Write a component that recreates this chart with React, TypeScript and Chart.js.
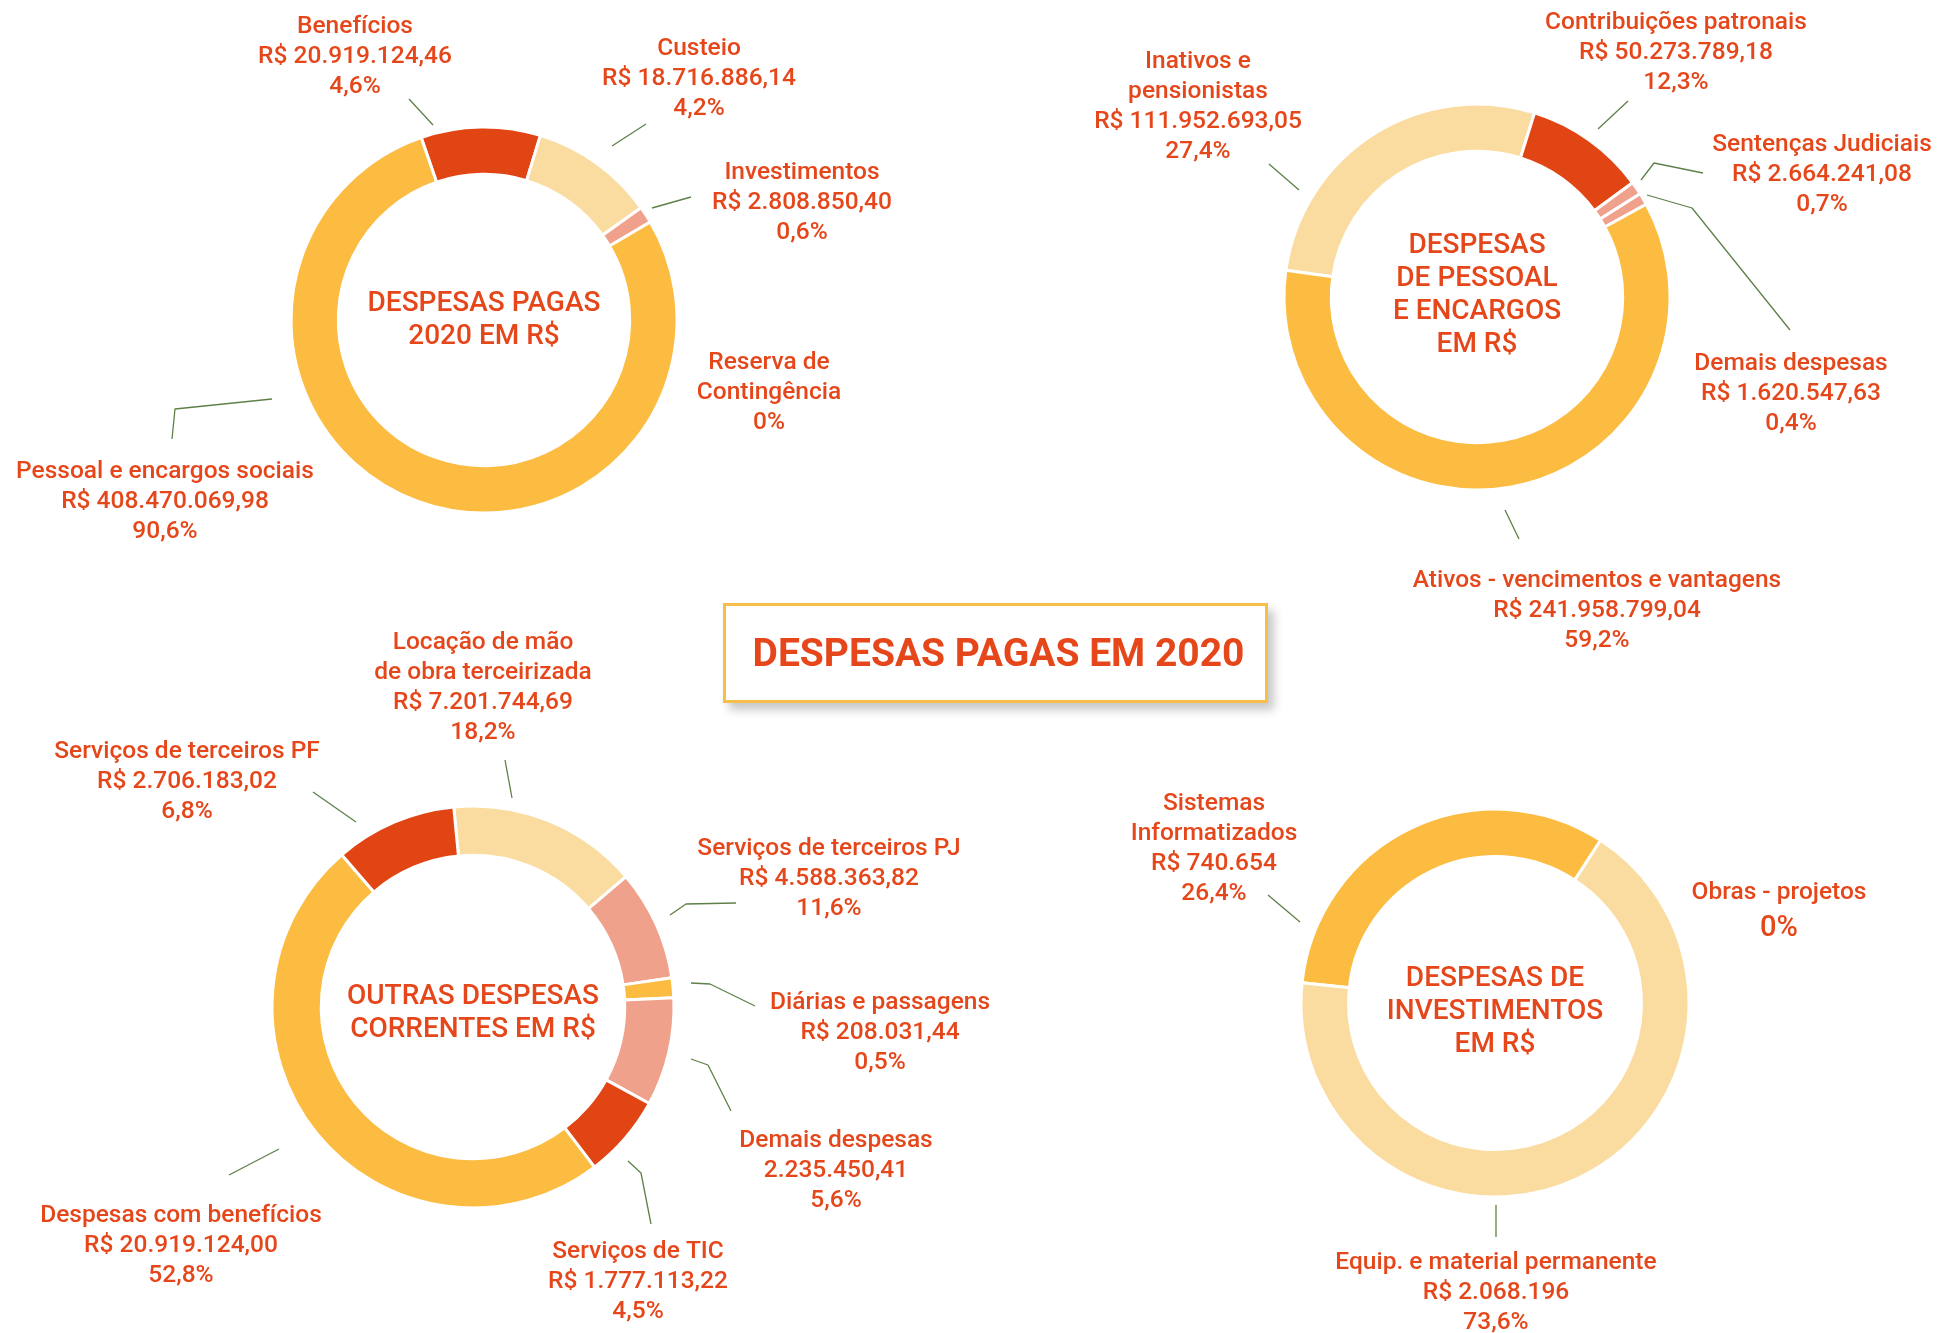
import React, { useEffect, useRef } from "react";
import { Chart, registerables } from "chart.js";

Chart.register(...registerables);

const PAGE_W = 1941;
const PAGE_H = 1333;

const RED = "#E24514";
const YELLOW = "#FBBC41";
const LIGHT = "#FBDCA0";
const SALMON = "#F0A18B";
const TEXT = "#E5471B";
const LINE = "#5E8048";
const FONT = "Roboto, 'Noto Sans', sans-serif";

// ---------- Despesas pagas 2020 ----------
const pagasCategorias = ["Benefícios", "Custeio", "Investimentos", "Reserva de\nContingência", "Pessoal e encargos sociais"];
const pagasValores = ["R$ 20.919.124,46", "R$ 18.716.886,14", "R$ 2.808.850,40", "", "R$ 408.470.069,98"];
const pagasPercentuais = ["4,6%", "4,2%", "0,6%", "0%", "90,6%"];
const pagasArco = [10.0, 10.4, 1.4, 0, 78.2];
const pagasCentro = ["DESPESAS PAGAS", "2020 EM R$"];

// ---------- Despesas de pessoal e encargos ----------
const pessoalCategorias = ["Inativos e\npensionistas", "Contribuições patronais", "Sentenças Judiciais", "Demais despesas", "Ativos - vencimentos e vantagens"];
const pessoalValores = ["R$ 111.952.693,05", "R$ 50.273.789,18", "R$ 2.664.241,08", "R$ 1.620.547,63", "R$ 241.958.799,04"];
const pessoalPercentuais = ["27,4%", "12,3%", "0,7%", "0,4%", "59,2%"];
const pessoalArco = [27.6, 10.1, 1.1, 1.0, 60.2];
const pessoalCentro = ["DESPESAS", "DE PESSOAL", "E ENCARGOS", "EM R$"];

// ---------- Outras despesas correntes ----------
const outrasCategorias = [
  "Locação de mão\nde obra terceirizada",
  "Serviços de terceiros PJ",
  "Diárias e passagens",
  "Demais despesas",
  "Serviços de TIC",
  "Despesas com benefícios",
  "Serviços de terceiros PF",
];
const outrasValores = ["R$ 7.201.744,69", "R$ 4.588.363,82", "R$ 208.031,44", "2.235.450,41", "R$ 1.777.113,22", "R$ 20.919.124,00", "R$ 2.706.183,02"];
const outrasPercentuais = ["18,2%", "11,6%", "0,5%", "5,6%", "4,5%", "52,8%", "6,8%"];
const outrasArco = [15.3, 8.9, 1.6, 8.7, 6.7, 49.0, 9.8];
const outrasCentro = ["OUTRAS DESPESAS", "CORRENTES EM R$"];

// ---------- Despesas de investimentos ----------
const investCategorias = ["Sistemas\nInformatizados", "Obras - projetos", "Equip. e material permanente"];
const investValores = ["R$ 740.654", "", "R$ 2.068.196"];
const investPercentuais = ["26,4%", "0%", "73,6%"];
const investArco = [32.5, 0, 67.5];
const investCentro = ["DESPESAS DE", "INVESTIMENTOS", "EM R$"];

const TITULO = "DESPESAS PAGAS EM 2020";

type Label = { x: number; y: number; leader: number[][]; pctSize?: number; pctGap?: number };
type Spec = {
  cx: number;
  cy: number;
  r: number;
  rotation: number;
  categorias: string[];
  valores: string[];
  percentuais: string[];
  arco: number[];
  cores: string[];
  centro: string[];
  centroY: number;
  labels: Label[];
};

const BW = 3;
const DY = 3;

const specs: Spec[] = [
  {
    cx: 484, cy: 320, r: 193, rotation: -19,
    categorias: pagasCategorias, valores: pagasValores, percentuais: pagasPercentuais, arco: pagasArco,
    cores: [RED, LIGHT, SALMON, YELLOW, YELLOW], centro: pagasCentro, centroY: 304,
    labels: [
      { x: 355, y: 24, leader: [[409, 99], [433, 125]] },
      { x: 699, y: 46, leader: [[646, 124], [612, 146]] },
      { x: 802, y: 170, leader: [[691, 197], [652, 208]] },
      { x: 769, y: 360, leader: [] },
      { x: 165, y: 469, leader: [[172, 439], [175, 409], [272, 399]] },
    ],
  },
  {
    cx: 1477, cy: 297, r: 193, rotation: -82,
    categorias: pessoalCategorias, valores: pessoalValores, percentuais: pessoalPercentuais, arco: pessoalArco,
    cores: [LIGHT, RED, SALMON, SALMON, YELLOW], centro: pessoalCentro, centroY: 246,
    labels: [
      { x: 1198, y: 59, leader: [[1269, 164], [1299, 190]] },
      { x: 1676, y: 20, leader: [[1628, 101], [1598, 129]] },
      { x: 1822, y: 142, leader: [[1703, 173], [1654, 163], [1641, 180]] },
      { x: 1791, y: 361, leader: [[1790, 330], [1692, 208], [1647, 195]] },
      { x: 1597, y: 578, leader: [[1505, 510], [1519, 539]] },
    ],
  },
  {
    cx: 473, cy: 1007, r: 201, rotation: -5.5,
    categorias: outrasCategorias, valores: outrasValores, percentuais: outrasPercentuais, arco: outrasArco,
    cores: [LIGHT, SALMON, YELLOW, SALMON, RED, YELLOW, RED], centro: outrasCentro, centroY: 997,
    labels: [
      { x: 483, y: 640, leader: [[505, 760], [512, 798]] },
      { x: 829, y: 846, leader: [[736, 903], [686, 904], [670, 915]] },
      { x: 880, y: 1000, leader: [[755, 1006], [710, 984], [691, 983]] },
      { x: 836, y: 1138, leader: [[731, 1111], [708, 1065], [691, 1059]] },
      { x: 638, y: 1249, leader: [[651, 1224], [641, 1173], [628, 1161]] },
      { x: 181, y: 1213, leader: [[229, 1175], [279, 1149]] },
      { x: 187, y: 749, leader: [[313, 792], [356, 822]] },
    ],
  },
  {
    cx: 1495, cy: 1003, r: 194, rotation: -84,
    categorias: investCategorias, valores: investValores, percentuais: investPercentuais, arco: investArco,
    cores: [YELLOW, LIGHT, LIGHT], centro: investCentro, centroY: 979,
    labels: [
      { x: 1214, y: 801, leader: [[1268, 895], [1300, 922]] },
      { x: 1779, y: 890, leader: [], pctSize: 29, pctGap: 36 },
      { x: 1496, y: 1260, leader: [[1496, 1205], [1496, 1237]] },
    ],
  },
];

const LINE_H = 30;

function makePlugin(spec: Spec) {
  return {
    id: "infoLabels",
    afterDraw(chart: any) {
      const ctx: CanvasRenderingContext2D = chart.ctx;
      const area = chart.chartArea;
      const cx = (area.left + area.right) / 2;
      ctx.save();
      // leader lines
      ctx.strokeStyle = LINE;
      ctx.lineWidth = 1.3;
      ctx.lineJoin = "round";
      spec.labels.forEach((lb) => {
        if (lb.leader.length < 2) return;
        ctx.beginPath();
        lb.leader.forEach((p, k) => (k === 0 ? ctx.moveTo(p[0], p[1]) : ctx.lineTo(p[0], p[1])));
        ctx.stroke();
      });
      // labels
      ctx.fillStyle = TEXT;
      ctx.textAlign = "center";
      ctx.textBaseline = "middle";
      spec.labels.forEach((lb, i) => {
        const lines = spec.categorias[i].split("\n");
        if (spec.valores[i]) lines.push(spec.valores[i]);
        let y = lb.y + DY;
        ctx.font = `500 24.5px ${FONT}`;
        lines.forEach((t) => {
          ctx.fillText(t, lb.x, y);
          y += LINE_H;
        });
        if (lb.pctSize) {
          y = y - LINE_H + (lb.pctGap || LINE_H);
          ctx.font = `500 ${lb.pctSize}px ${FONT}`;
        }
        ctx.fillText(spec.percentuais[i], lb.x, y);
      });
      // center text
      ctx.font = `500 28px ${FONT}`;
      let y = spec.centroY;
      spec.centro.forEach((t) => {
        ctx.fillText(t, cx, y);
        y += 33;
      });
      ctx.restore();
    },
  };
}

function Donut({ spec }: { spec: Spec }) {
  const ref = useRef<HTMLCanvasElement | null>(null);
  useEffect(() => {
    if (!ref.current) return;
    const R = spec.r + BW / 2;
    const chart = new Chart(ref.current, {
      type: "doughnut",
      data: {
        labels: spec.categorias,
        datasets: [
          {
            data: spec.arco,
            backgroundColor: spec.cores,
            borderColor: "#ffffff",
            borderWidth: BW,
            hoverOffset: 0,
          },
        ],
      },
      options: {
        responsive: false,
        animation: false,
        rotation: spec.rotation,
        cutout: "75.5%",
        events: [],
        layout: {
          padding: {
            left: spec.cx - R,
            top: spec.cy - R,
            right: PAGE_W - spec.cx - R,
            bottom: PAGE_H - spec.cy - R,
          },
        },
        plugins: {
          legend: { display: false },
          tooltip: { enabled: false },
        },
      } as any,
      plugins: [makePlugin(spec)],
    });
    return () => chart.destroy();
  }, [spec]);
  return (
    <canvas
      ref={ref}
      width={PAGE_W}
      height={PAGE_H}
      style={{ position: "absolute", left: 0, top: 0, width: PAGE_W, height: PAGE_H }}
    />
  );
}

export default function App() {
  return (
    <div style={{ position: "absolute", left: 0, top: 0, width: PAGE_W, height: PAGE_H, background: "#ffffff", overflow: "hidden" }}>
      {specs.map((s, i) => (
        <Donut key={i} spec={s} />
      ))}
      <div
        style={{
          position: "absolute",
          left: 723,
          top: 603,
          width: 545,
          height: 100,
          boxSizing: "border-box",
          border: "3px solid #F8BE4A",
          background: "#ffffff",
          boxShadow: "6px 7px 9px rgba(0,0,0,0.22)",
          display: "flex",
          alignItems: "center",
          justifyContent: "center",
          paddingLeft: 6,
          fontFamily: FONT,
          fontWeight: 700,
          fontSize: 39,
          color: TEXT,
          zIndex: 5,
        }}
      >
        {TITULO}
      </div>
    </div>
  );
}
